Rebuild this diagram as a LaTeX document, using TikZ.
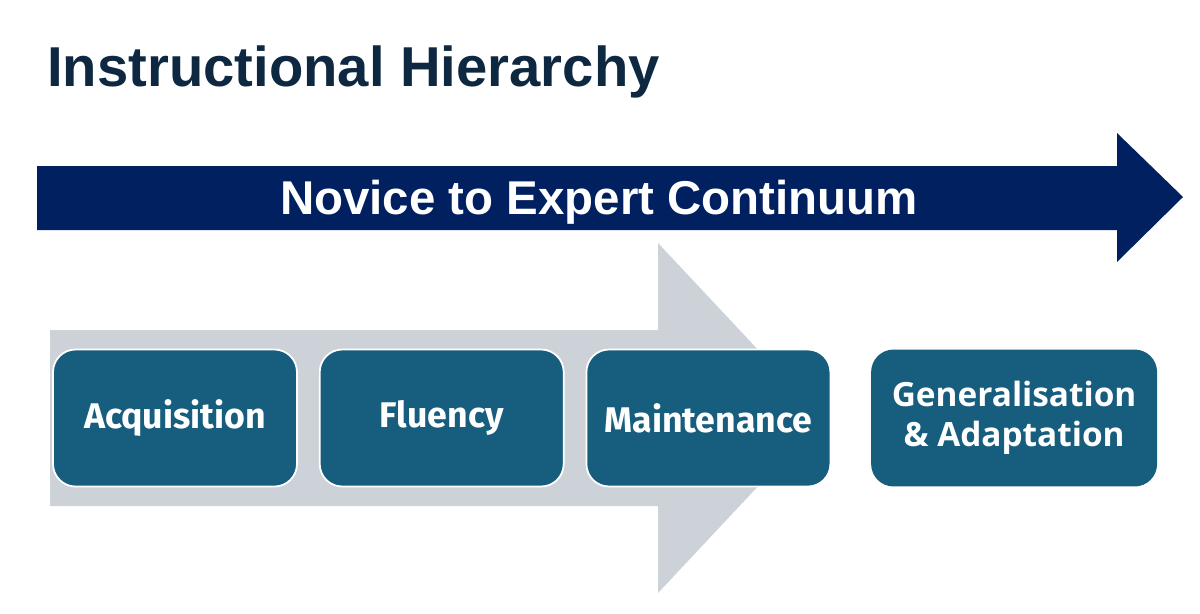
\documentclass[tikz,border=0pt]{standalone}
\usepackage{fontspec}
\setmainfont{Liberation Sans}
\newfontfamily\stagefont{Fira Sans}
\newfontfamily\adaptfont{Open Sans}
\definecolor{titlenavy}{RGB}{14,40,65}
\definecolor{continuumnavy}{RGB}{0,32,96}
\definecolor{stageteal}{RGB}{23,94,126}
\definecolor{stagegrey}{RGB}{205,210,216}
\usetikzlibrary{positioning,calc}

\begin{document}
\begin{tikzpicture}[x=0.02cm,y=-0.02cm,node distance=0.42cm,
    stage/.style={draw=white,line width=1pt,fill=stageteal,rounded corners=0.45cm,
                  minimum width=4.88cm,minimum height=2.74cm,text=white,align=center,
                  font=\stagefont\bfseries\fontsize{20.3}{24}\selectfont}]
    \useasboundingbox (0,0) rectangle (1200,613);
    % title
    \node[anchor=base west,inner sep=0,text=titlenavy,
          font=\bfseries\fontsize{32}{38}\selectfont] (title) at (47,86) {Instructional Hierarchy};
    % long arrow
    \fill[continuumnavy] (37,166) -- (1117,166) -- (1117,133) -- (1183,197)
        -- (1117,262) -- (1117,230) -- (37,230) -- cycle;
    \node[anchor=base,text=white,font=\bfseries\fontsize{27}{32}\selectfont]
        (continuum) at (599,214) {Novice to Expert Continuum};
    % grey arrow behind the stages
    \fill[stagegrey] (50,330) -- (658,330) -- (658,243) -- (822,418)
        -- (658,593) -- (658,506) -- (50,506) -- cycle;
    % stages
    \node[stage] (acq) at (175,418) {Acquisition};
    \node[stage,right=of acq] (flu) {Fluency};
    \node[stage,right=of flu] (maint) {Maintenance};
    \node[stage,right=0.78cm of maint,minimum width=5.72cm,draw=none,
          font=\adaptfont\bfseries\fontsize{19}{23}\selectfont] (gen) {Generalisation\\\& Adaptation};
\end{tikzpicture}
\end{document}
